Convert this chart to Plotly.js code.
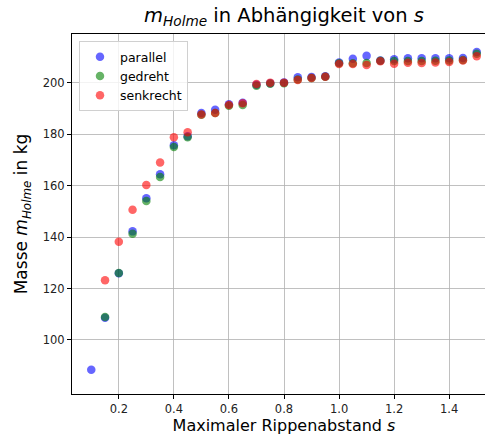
<!DOCTYPE html>
<html>
<head>
<meta charset="utf-8">
<script src="https://cdn.plot.ly/plotly-3.0.1.min.js"></script>
<style>html,body{margin:0;padding:0;overflow:hidden;background:#fff;}</style>
</head>
<body>
<div id="chart"></div>
<script>
const sAll = [0.1,0.15,0.2,0.25,0.3,0.35,0.4,0.45,0.5,0.55,0.6,0.65,0.7,0.75,0.8,0.85,0.9,0.95,1.0,1.05,1.1,1.15,1.2,1.25,1.3,1.35,1.4,1.45,1.5];
const sFrom015 = sAll.slice(1);
const parallel = [88.4,108.6,125.9,142.2,155.1,164.4,175.7,179.2,188.2,189.5,191.6,192.2,199.2,199.8,200.1,202.1,202.2,202.5,207.8,209.3,210.4,208.6,209.1,209.5,209.5,209.5,209.5,209.6,211.9];
const gedreht = [108.9,126.0,141.3,154.0,163.3,175.0,178.8,187.5,188.2,191.0,191.3,198.8,199.6,199.8,201.2,201.8,202.3,207.5,207.5,207.6,208.5,208.4,208.4,208.4,208.5,208.6,208.8,211.2];
const senkrecht = [123.2,138.2,150.6,160.2,169.0,178.8,180.7,187.6,188.2,191.3,192.0,199.5,200.0,200.0,201.0,201.8,202.3,207.2,207.2,206.9,208.3,207.3,207.7,207.6,207.8,208.0,208.6,210.3];
const xTicks = [0.2,0.4,0.6,0.8,1.0,1.2,1.4];
const yTicks = [100,120,140,160,180,200];

const mk = (color) => ({size: 8.5, color: color, opacity: 0.6, line: {width: 0}});
const data = [
  {x: sAll, y: parallel, mode: 'markers', type: 'scatter', name: 'parallel', marker: mk('rgb(0,0,255)')},
  {x: sFrom015, y: gedreht, mode: 'markers', type: 'scatter', name: 'gedreht', marker: mk('rgb(0,128,0)')},
  {x: sFrom015, y: senkrecht, mode: 'markers', type: 'scatter', name: 'senkrecht', marker: mk('rgb(255,0,0)')}
];
const font = {family: 'DejaVu Sans, sans-serif', color: '#000'};
const layout = {
  width: 497, height: 435,
  margin: {l: 72, r: 1, t: 34, b: 41, pad: 0},
  paper_bgcolor: '#fff', plot_bgcolor: '#fff',
  font: font,
  showlegend: true,
  title: {text: '<i>m<sub>Holme</sub></i> in Abhängigkeit von <i>s</i>', font: {family: font.family, size: 19.5, color: '#000'}, x: 0.5, xref: 'paper', xanchor: 'center', y: 0.98, yref: 'container', yanchor: 'top'},
  xaxis: {
    range: [0.03, 1.57], tickvals: xTicks, ticktext: xTicks.map(v => v.toFixed(1)),
    showgrid: true, gridcolor: '#b0b0b0', gridwidth: 0.8,
    ticks: 'outside', ticklen: 4, tickwidth: 1, tickcolor: '#000',
    showline: true, linecolor: '#000', linewidth: 1, mirror: true, zeroline: false,
    tickfont: {family: font.family, size: 11.5, color: '#222'},
    title: {text: 'Maximaler Rippenabstand <i>s</i>', font: {family: font.family, size: 16, color: '#000'}, standoff: 8}
  },
  yaxis: {
    range: [79, 218.9], tickvals: yTicks, ticktext: yTicks.map(String),
    showgrid: true, gridcolor: '#b0b0b0', gridwidth: 0.8,
    ticks: 'outside', ticklen: 4, tickwidth: 1, tickcolor: '#000',
    showline: true, linecolor: '#000', linewidth: 1, mirror: true, zeroline: false,
    tickfont: {family: font.family, size: 11.5, color: '#222'},
    title: {text: 'Masse <i>m<sub>Holme</sub></i> in kg', font: {family: font.family, size: 17, color: '#000'}, standoff: 10}
  },
  legend: {
    x: 0.0165, y: 0.98, xanchor: 'left', yanchor: 'top',
    bgcolor: 'rgba(255,255,255,0.8)', bordercolor: '#d0d0d0', borderwidth: 1,
    font: {family: font.family, size: 12.5, color: '#000'},
    itemsizing: 'trace', tracegroupgap: 0
  }
};
Plotly.newPlot('chart', data, layout, {displayModeBar: false, staticPlot: true});
</script>
</body>
</html>
